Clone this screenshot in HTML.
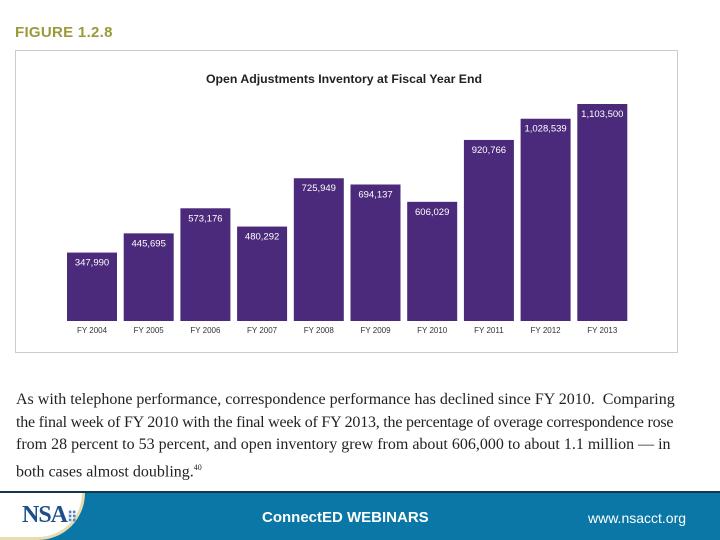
<!DOCTYPE html>
<html><head><meta charset="utf-8"><style>
body{margin:0;width:720px;height:540px;background:#fff;position:relative;overflow:hidden;font-family:"Liberation Sans",sans-serif}
.abs{position:absolute}
</style></head><body>
<div class="abs" style="left:15px;top:24px;font-weight:bold;font-size:15px;color:#9a9a3a;letter-spacing:0.3px">FIGURE 1.2.8</div>
<div class="abs" style="left:15px;top:50px;width:661px;height:301px;border:1px solid #ccc"></div>
<svg class="abs" style="left:0;top:0" width="720" height="360">
<text x="344" y="83" text-anchor="middle" font-size="12.3" font-weight="bold" fill="#222">Open Adjustments Inventory at Fiscal Year End</text>
<g id="bars"></g>
</svg>
<div class="abs" style="left:16px;top:389px;width:700px;overflow:hidden;white-space:nowrap;font-family:'Liberation Serif',serif;font-size:16px;line-height:22.5px;color:#222">As with telephone performance, correspondence performance has declined since FY 2010. &nbsp;Comparing<br><span style="letter-spacing:-0.22px">the final week of FY 2010 with the final week of FY 2013, the percentage of overage correspondence rose</span><br>from 28 percent to 53 percent, and open inventory grew from about 606,000 to about 1.1 million — in<br>both cases almost doubling.<sup style="font-size:8px">40</sup></div>
<div class="abs" style="left:0;top:491px;width:720px;height:47px;background:#0a77a6;border-top:2px solid #10394f"></div>
<div class="abs" style="left:0;top:493px;width:82px;height:44px;background:#fff;border-radius:0 0 50px 0;border-right:3px solid #e8dcb0;border-bottom:3px solid #e8dcb0"></div>
<div class="abs" style="left:22px;top:502px;font-family:'Liberation Serif',serif;font-weight:bold;font-size:24px;color:#1d4f8a;letter-spacing:-1px">NSA<span style="font-size:14px;color:#5a86c0">⠿</span></div>
<div class="abs" style="left:262px;top:509px;font-weight:bold;font-size:15px;color:#fff">ConnectED WEBINARS</div>
<div class="abs" style="left:588px;top:510px;font-size:14px;color:#fff">www.nsacct.org</div>
<script>
const categories=["FY 2004","FY 2005","FY 2006","FY 2007","FY 2008","FY 2009","FY 2010","FY 2011","FY 2012","FY 2013"];
const values=[347990,445695,573176,480292,725949,694137,606029,920766,1028539,1103500];
const labels=["347,990","445,695","573,176","480,292","725,949","694,137","606,029","920,766","1,028,539","1,103,500"];
const base=321, x0=67, step=56.7, bw=50, k=217/1103500;
const g=document.getElementById('bars'), ns='http://www.w3.org/2000/svg';
function xs(i){return x0+i*step;}
function ys(v){return base-v*k;}
values.forEach((v,i)=>{
 const r=document.createElementNS(ns,'rect');
 r.setAttribute('x',xs(i));r.setAttribute('y',ys(v));r.setAttribute('width',bw);r.setAttribute('height',base-ys(v));r.setAttribute('fill','#4b2a7b');
 
 
 g.appendChild(r);
 const t=document.createElementNS(ns,'text');
 t.setAttribute('x',xs(i)+bw/2);t.setAttribute('y',ys(v)+13);t.setAttribute('text-anchor','middle');t.setAttribute('font-size','9.5');t.setAttribute('fill','#fff');
 t.textContent=labels[i];
 
 
 g.appendChild(t);
 const c=document.createElementNS(ns,'text');
 c.setAttribute('x',xs(i)+bw/2);c.setAttribute('y',333);c.setAttribute('text-anchor','middle');c.setAttribute('font-size','8');c.setAttribute('fill','#333');
 c.textContent=categories[i];
 
 
 g.appendChild(c);
});
</script>
</body></html>
